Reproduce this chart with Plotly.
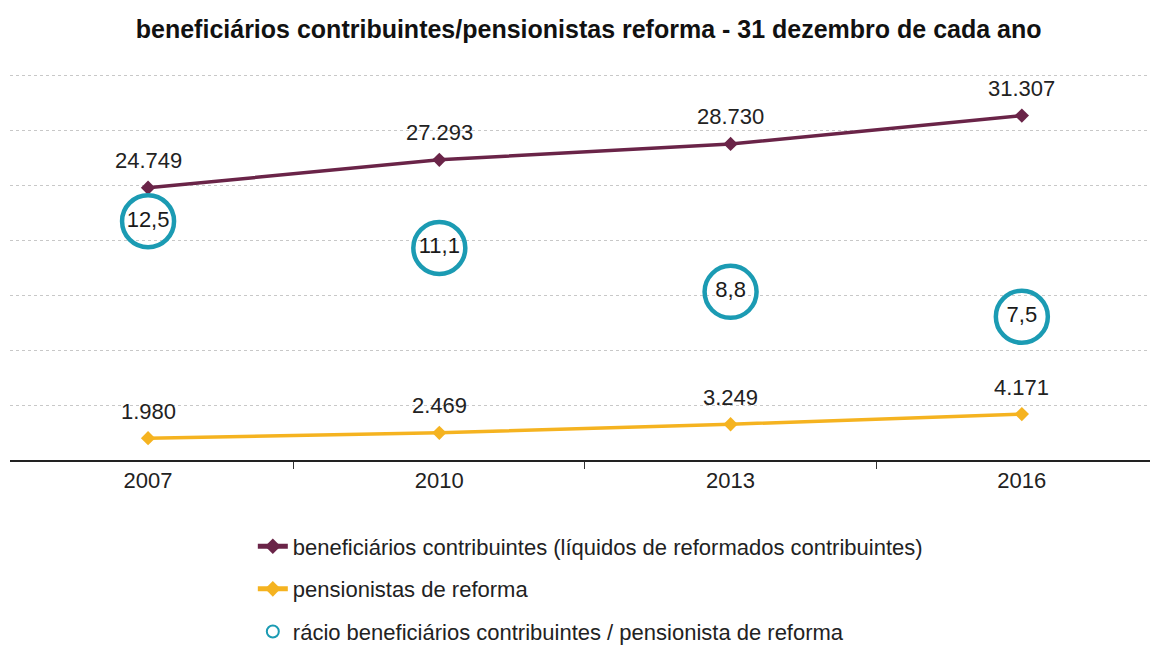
import plotly.graph_objects as go

years = ["2007", "2010", "2013", "2016"]
beneficiarios = [24749, 27293, 28730, 31307]
pensionistas = [1980, 2469, 3249, 4171]
racio = [12.5, 11.1, 8.8, 7.5]

ben_labels = ["24.749", "27.293", "28.730", "31.307"]
pen_labels = ["1.980", "2.469", "3.249", "4.171"]
racio_labels = ["12,5", "11,1", "8,8", "7,5"]

FONT = "Liberation Sans, Arial, sans-serif"
PURPLE = "#6a2448"
YELLOW = "#f5b320"
TEAL = "#1b9bb3"

fig = go.Figure()
fig.add_trace(go.Scatter(
    x=years, y=beneficiarios, mode="lines+markers",
    name="beneficiários contribuintes (líquidos de reformados contribuintes)",
    line=dict(color=PURPLE, width=3.5),
    marker=dict(symbol="diamond", size=11, color=PURPLE),
    legendgroup="a",
))
fig.add_trace(go.Scatter(
    x=years, y=pensionistas, mode="lines+markers",
    name="pensionistas de reforma",
    line=dict(color=YELLOW, width=3.5),
    marker=dict(symbol="diamond", size=11, color=YELLOW),
    legendgroup="b",
))
fig.add_trace(go.Scatter(
    x=years, y=racio, mode="markers+text", yaxis="y2",
    name="rácio beneficiários contribuintes / pensionista de reforma",
    marker=dict(symbol="circle-open", size=52, color=TEAL, line=dict(width=4.5, color=TEAL)),
    text=racio_labels, textposition="middle center",
    textfont=dict(family=FONT, size=22, color="#1a1a1a"),
    legendgroup="c",
))

for ys, labs in [(beneficiarios, ben_labels), (pensionistas, pen_labels)]:
    for i, (y, t) in enumerate(zip(ys, labs)):
        fig.add_annotation(x=i, y=y, xref="x", yref="y", text=t, showarrow=False, yshift=27,
                           font=dict(family=FONT, size=22, color="#222222"))

plot_h = 646 - 70 - 186
fig.update_layout(
    width=1152, height=646,
    paper_bgcolor="white", plot_bgcolor="white",
    margin=dict(l=10, r=2, t=70, b=186, autoexpand=False),
    title=dict(text="<b>beneficiários contribuintes/pensionistas reforma - 31 dezembro de cada ano</b>",
               x=0.511, xanchor="center", y=1 - 29 / 646, yanchor="middle", yref="container",
               font=dict(family=FONT, size=25, color="#111111")),
    xaxis=dict(type="category", range=[-0.474, 3.44], showline=True, linecolor="#222222", linewidth=2,
               ticks="outside", tickson="boundaries", ticklen=7, tickcolor="#333333",
               showgrid=False, tickfont=dict(family=FONT, size=22, color="#222222")),
    yaxis=dict(range=[0, 35000 * plot_h / 385], dtick=5000, showgrid=True, gridcolor="#c8c8c8",
               griddash="dot", gridwidth=1, showticklabels=False, zeroline=False, ticks=""),
    yaxis2=dict(range=[0, 20.15 * plot_h / 385], overlaying="y", side="right", showgrid=False,
                showticklabels=False, zeroline=False, ticks=""),
    showlegend=True,
    legend=dict(x=0.213, xanchor="left", y=-0.17 * 385 / plot_h, yanchor="top", orientation="v",
                font=dict(family=FONT, size=22, color="#222222"),
                tracegroupgap=11, itemsizing="constant", bgcolor="rgba(0,0,0,0)"),
)

fig.write_html("out.html", config={"displayModeBar": False},
               post_script="document.body.style.margin='0';document.body.style.overflow='hidden';")
